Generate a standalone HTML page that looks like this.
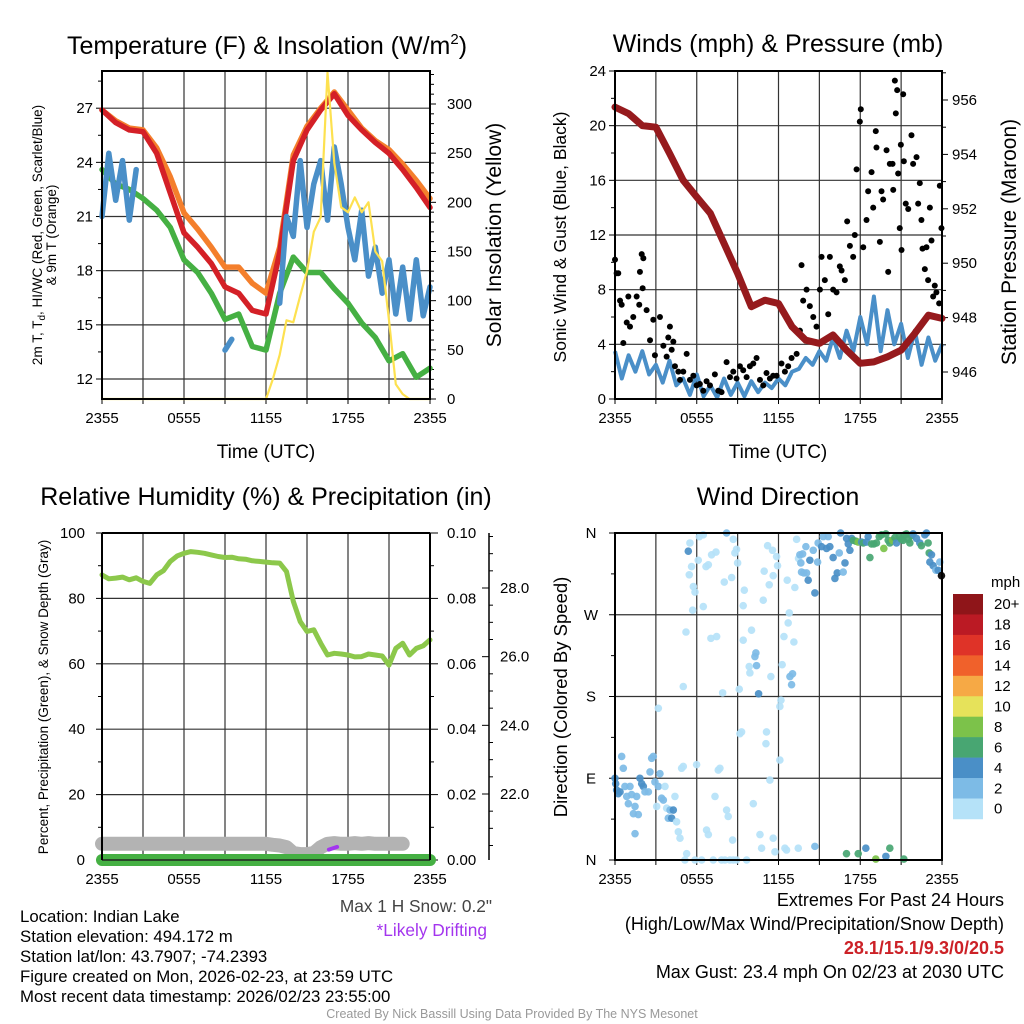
<!DOCTYPE html>
<html><head><meta charset="utf-8"><style>
html,body{margin:0;padding:0;background:#fff;}
svg{display:block;font-family:"Liberation Sans",Arial,sans-serif;}
</style></head><body>
<svg id="fig" width="1024" height="1024" viewBox="0 0 1024 1024" xmlns="http://www.w3.org/2000/svg">
<rect width="1024" height="1024" fill="#fff"/>
<g id="titles">
<text x="267" y="54" text-anchor="middle" font-size="25">Temperature (F) &amp; Insolation (W/m<tspan dy="-10" font-size="15">2</tspan><tspan dy="10">)</tspan></text>
<text x="778" y="52" text-anchor="middle" font-size="25">Winds (mph) &amp; Pressure (mb)</text>
<text x="266" y="505" text-anchor="middle" font-size="25">Relative Humidity (%) &amp; Precipitation (in)</text>
<text x="778" y="505" text-anchor="middle" font-size="25">Wind Direction</text>
<text x="266" y="458" text-anchor="middle" font-size="19">Time (UTC)</text>
<text x="778" y="458" text-anchor="middle" font-size="19">Time (UTC)</text>
<text transform="translate(42,235) rotate(-90)" text-anchor="middle" font-size="13.5">2m T, T<tspan dy="3" font-size="10">d</tspan><tspan dy="-3">, HI/WC (Red, Green, Scarlet/Blue)</tspan></text>
<text transform="translate(56,235) rotate(-90)" text-anchor="middle" font-size="13.5">&amp; 9m T (Orange)</text>
<text transform="translate(501,235) rotate(-90)" text-anchor="middle" font-size="21">Solar Insolation (Yellow)</text>
<text transform="translate(566,237) rotate(-90)" text-anchor="middle" font-size="17.5">Sonic Wind &amp; Gust (Blue, Black)</text>
<text transform="translate(1016,242) rotate(-90)" text-anchor="middle" font-size="21">Station Pressure (Maroon)</text>
<text transform="translate(48,697) rotate(-90)" text-anchor="middle" font-size="13.5">Percent, Precipitation (Green), &amp; Snow Depth (Gray)</text>
<text transform="translate(567,697) rotate(-90)" text-anchor="middle" font-size="18.5">Direction (Colored By Speed)</text>
</g>
<g id="footer" font-size="16.8">
<text x="20" y="922">Location: Indian Lake</text>
<text x="20" y="942">Station elevation: 494.172 m</text>
<text x="20" y="962">Station lat/lon: 43.7907; -74.2393</text>
<text x="20" y="982">Figure created on Mon, 2026-02-23, at 23:59 UTC</text>
<text x="20" y="1002">Most recent data timestamp: 2026/02/23 23:55:00</text>
<text x="492" y="912" text-anchor="end" fill="#444" font-size="17.3">Max 1 H Snow: 0.2"</text>
<text x="487" y="936" text-anchor="end" fill="#a335ee" font-size="17.3">*Likely Drifting</text>
<text x="1004" y="906" text-anchor="end" font-size="18">Extremes For Past 24 Hours</text>
<text x="1004" y="930" text-anchor="end" font-size="18">(High/Low/Max Wind/Precipitation/Snow Depth)</text>
<text x="1004" y="954" text-anchor="end" font-size="18" font-weight="bold" fill="#cc2127">28.1/15.1/9.3/0/20.5</text>
<text x="1004" y="978" text-anchor="end" font-size="18">Max Gust: 23.4 mph On 02/23 at 2030 UTC</text>
<text x="512" y="1018" text-anchor="middle" font-size="12.5" fill="#999">Created By Nick Bassill Using Data Provided By The NYS Mesonet</text>
</g>
</svg>
<script>
// ---------- shared ----------
const timeTickLabels = ["2355","0555","1155","1755","2355"];
// ---------- panel 1 data (half-hourly / hourly) ----------
const tempRed = [26.9,26.2,25.8,25.7,24.5,22.3,20.1,19.3,18.4,17.1,16.75,15.8,15.6,19.0,24.1,25.8,26.9,27.8,26.6,25.8,25.1,24.5,23.6,22.6,21.5];
const tempOrange = [26.9,26.3,25.9,25.8,24.8,23.2,21.2,20.3,19.3,18.2,18.2,17.3,16.75,19.3,24.4,26.0,27.0,27.9,26.9,25.9,25.2,24.7,23.9,23.0,22.0];
const tempGreen = [23.6,22.8,22.5,22.0,21.35,20.4,18.6,17.9,16.75,15.3,15.6,13.8,13.6,16.75,18.75,17.9,17.9,17.0,16.2,15.1,14.3,13.0,13.4,12.1,12.6];
const tempBlue = [21.0,24.5,21.9,24.1,20.8,23.6,null,23.3,null,null,null,null,null,null,null,null,null,null,13.6,14.2,null,null,null,null,null,null,16.2,21.0,19.9,24.1,20.4,22.8,24.1,20.8,24.85,22.8,20.4,18.6,21.35,17.7,19.3,16.75,18.6,15.6,18.2,15.3,18.6,15.5,17.1];
const solarValues = [0,0,0,0,0,0,0,0,0,0,0,0,0,0,0,0,0,0,0,0,0,0,0,0,0,20,45,80,78,105,130,170,185,332,240,195,190,205,190,200,150,140,80,15,5,0,0,0,0];
const tempTicks = [12,15,18,21,24,27];
const solarTicks = [0,50,100,150,200,250,300];
// ---------- panel 2 data ----------
const pressureValues = [955.74,955.5,955.06,955.0,954.04,953.05,952.43,951.83,950.73,949.63,948.4,948.64,948.52,947.66,947.17,947.05,947.36,946.8,946.32,946.37,946.56,946.8,947.42,948.09,947.97];
const windValues = [3.5,1.5,3.2,2.0,3.5,1.8,2.5,1.2,2.8,1.0,1.5,0.3,1.8,0.2,1.0,0.1,1.5,0.3,1.2,0.2,1.3,0.5,1.2,0.8,1.5,1.0,2.0,2.2,3.0,2.5,3.5,2.8,4.5,3.0,5.0,3.5,6.0,4.0,7.5,3.5,6.5,4.0,5.5,3.0,5.0,2.5,4.5,2.8,4.0];
const gustHours = [0.0,0.12,0.24,0.37,0.49,0.61,0.86,0.98,1.10,1.34,1.59,1.78,1.96,2.08,2.03,1.83,2.32,2.57,2.81,2.93,3.30,3.55,3.79,4.03,3.91,4.28,4.16,4.40,4.65,4.77,5.01,5.26,5.50,5.75,5.99,6.23,6.48,6.72,6.97,7.33,7.58,7.82,8.19,8.44,8.68,8.92,9.17,9.41,9.66,9.90,10.15,10.39,10.64,10.88,11.12,11.37,11.61,11.86,12.22,12.47,12.71,12.96,13.33,13.57,13.69,13.81,14.06,14.30,14.55,14.79,15.04,15.16,15.40,15.65,15.77,16.01,16.26,16.50,16.63,16.87,17.04,17.24,17.48,17.60,17.73,17.97,18.04,18.22,18.46,18.58,18.83,18.95,19.14,19.19,19.44,19.56,19.68,19.93,20.05,20.17,20.37,20.42,20.54,20.61,20.71,20.78,20.90,21.03,21.15,20.98,21.20,21.34,21.52,21.76,21.88,22.13,22.25,22.37,22.49,22.57,22.74,22.86,22.98,23.11,23.23,23.35,23.47,23.59,23.79,23.84,23.96];
const gustValues = [10.2,9.2,9.2,7.2,6.9,4.1,5.6,7.5,5.3,6.0,7.5,6.9,10.6,10.3,8.1,9.3,6.5,4.3,5.8,3.2,6.0,3.9,3.1,5.3,4.5,4.2,3.6,2.4,2.0,1.4,2.0,3.3,1.4,1.7,1.0,1.1,0.6,1.3,1.0,1.8,0.6,0.5,2.7,1.6,2.0,1.5,2.4,2.1,1.6,2.4,2.6,3.0,1.4,1.0,1.9,1.5,1.7,1.7,2.6,2.0,2.4,3.0,3.3,5.0,9.8,7.2,8.0,6.8,6.0,5.3,8.0,10.4,8.7,6.2,10.4,8.0,7.8,9.7,9.4,8.7,13.0,11.2,10.4,12.0,16.8,20.3,21.2,11.1,13.1,15.2,16.6,14.0,19.6,18.4,11.5,15.2,14.6,18.2,9.3,17.2,17.2,15.3,23.3,20.9,22.6,16.5,12.5,10.9,22.3,18.6,17.4,14.3,13.9,19.3,17.2,17.7,14.3,15.8,13.1,11.0,9.5,11.1,8.7,14.0,11.6,7.5,8.3,7.8,7.0,15.6,12.5];
const windTicks = [0,4,8,12,16,20,24];
const pressureTicks = [946,948,950,952,954,956];
// ---------- panel 3 data ----------
const rhValues = [87.2,86.0,86.2,86.5,85.7,86.3,85.2,84.6,87.2,88.5,91.3,93.0,93.8,94.3,94.1,93.8,93.3,92.8,92.5,92.6,92.1,92.0,91.5,91.3,91.1,90.9,90.8,88.2,79.1,72.9,69.9,70.4,66.3,62.7,63.2,63.0,62.7,62.1,62.2,63.0,62.7,62.4,59.6,64.7,66.3,62.7,64.7,65.5,67.3];
const precipValues = [0,0,0,0,0,0,0,0,0,0,0,0,0,0,0,0,0,0,0,0,0,0,0,0,0];
const snowValues = [20.55,20.55,20.55,20.55,20.55,20.55,20.55,20.55,20.55,20.55,20.55,20.55,20.55,20.55,20.55,20.55,20.55,20.55,20.55,20.55,20.55,20.55,20.55,20.55,20.55,20.52,20.5,20.45,20.28,20.25,20.25,20.28,20.45,20.55,20.57,20.55,20.55,20.57,20.55,20.57,20.55,20.55,20.55,20.55,20.55,null,null,null,null];
const driftHours = [16.6,17.2];
const driftValues = [20.38,20.46];
const rhTicks = [0,20,40,60,80,100];
const precipTicks = ["0.00","0.02","0.04","0.06","0.08","0.10"];
const snowTicks = ["22.0","24.0","26.0","28.0"];
// ---------- panel 4 data ----------
const dirHours = [0.0,0.05,0.12,0.24,0.37,0.49,0.61,0.73,0.86,0.98,1.10,1.22,1.35,1.47,1.59,1.71,1.47,1.83,1.96,2.08,2.20,2.45,2.57,2.69,2.81,2.93,3.06,3.18,3.30,3.42,3.55,3.67,3.79,3.91,4.04,4.16,4.28,4.40,4.52,4.65,4.77,4.89,5.01,5.13,5.26,5.87,5.99,6.36,6.72,6.85,7.21,7.34,7.58,7.70,7.82,8.07,8.19,8.31,8.44,8.68,8.63,8.92,9.17,9.29,9.66,10.15,10.64,10.76,11.12,11.08,11.37,11.61,11.74,12.10,12.47,12.59,13.45,14.67,16.99,17.85,18.41,19.14,19.88,20.17,21.20,3.18,
5.01,5.21,5.45,5.38,5.50,5.62,5.75,5.87,5.70,6.11,6.19,6.48,6.48,6.68,6.85,7.09,7.04,7.41,7.46,7.90,8.02,8.19,8.56,8.68,8.80,8.92,9.00,9.12,9.41,9.49,9.41,9.90,9.85,10.02,10.27,10.34,10.39,10.54,10.88,10.95,11.20,11.32,11.44,11.56,11.61,11.86,11.93,12.10,12.18,12.27,12.40,12.64,12.71,12.79,12.84,12.96,13.03,13.13,13.20,13.33,13.47,13.57,13.64,13.77,13.69,13.86,14.06,14.01,14.18,14.30,14.55,14.67,14.87,14.91,15.16,15.28,15.53,15.65,15.77,16.01,16.14,16.31,16.46,16.56,16.75,16.88,17.00,17.12,17.24,17.37,17.49,17.68,17.85,18.10,18.22,18.46,18.58,18.71,18.83,19.00,19.19,19.39,19.56,19.73,19.88,20.05,20.17,20.37,20.54,20.66,20.86,21.03,21.15,21.27,21.39,21.52,21.64,21.76,21.88,22.13,22.37,22.49,22.74,22.86,22.98,23.06,23.23,23.11,23.35,23.55,23.72,23.84,23.96];
const dirDegrees = [90,84,77,73,75,114,101,81,70,62,81,72,51,59,70,50,29,90,84,81,75,75,97,112,114,86,59,81,95,68,66,81,57,46,55,46,55,70,42,31,24,101,103,0,7,0,105,0,33,28,0,70,99,101,0,0,55,48,0,0,22,0,139,141,0,62,28,13,141,128,88,24,9,110,13,11,13,15,7,7,13,1,4,13,1,167,
191,251,314,340,349,323,301,295,275,330,356,358,279,323,325,336,244,339,246,184,306,360,311,353,338,342,327,188,280,297,242,206,213,253,224,228,214,183,286,318,346,303,202,341,313,334,324,169,176,215,246,308,261,272,202,193,205,240,300,353,332,336,327,337,317,316,316,345,308,330,341,294,328,349,345,356,343,356,345,333,310,316,338,360,317,327,354,348,341,354,352,351,350,350,349,350,356,333,348,348,349,356,358,343,359,352,349,352,355,349,356,353,352,358,359,353,349,357,359,354,349,346,358,360,349,338,336,328,324,319,319,328,313];
const dirSpeeds = [5,5,5,5,5,3,3,3,3,3,3,3,3,3,3,3,3,5,5,5,3,3,3,3,3,3,1,3,3,3,3,1,1,3,3,5,5,1,1,1,1,1,1,1,1,1,1,1,1,1,1,1,1,1,1,1,1,1,1,1,1,1,1,1,1,1,1,1,1,1,1,1,1,1,1,1,1,3,7,7,5,9,5,7,7,1,
1,1,1,5,1,1,1,1,1,1,1,1,1,1,1,1,1,1,1,1,1,3,1,1,1,1,1,1,1,1,1,1,1,1,3,3,3,5,1,1,1,1,1,1,1,1,1,1,1,1,1,1,1,1,3,3,3,1,1,1,1,3,3,3,3,3,3,3,5,5,3,5,3,3,5,3,5,3,5,5,5,5,3,5,3,5,5,5,5,5,7,7,9,5,7,5,5,7,7,7,7,7,7,9,7,7,7,9,7,5,7,7,7,7,7,7,7,7,5,5,5,7,5,5,7,7,5,5,5,3,5,3];
const dirTicks = ["N","E","S","W","N"];
const speedBinLabels = ["0","2","4","6","8","10","12","14","16","18","20+"];
const speedBinColors = ["#b5e2f8","#7dbbe6","#4a8fc7","#48a672","#7cc24a","#e6e25a","#f6a945","#f0612b","#df3328","#bb1a24","#8f1519"];

// ---------- helpers ----------
const NS = "http://www.w3.org/2000/svg";
const svg = document.getElementById("fig");
function mk(tag, attrs, parent){ const e=document.createElementNS(NS,tag); for(const k in attrs) e.setAttribute(k,attrs[k]); (parent||svg).appendChild(e); return e; }
function lin(d0,d1,r0,r1){ return v=> r0+(v-d0)*(r1-r0)/(d1-d0); }
function pathFrom(xs, ys){
  let d="", pen=false;
  for(let i=0;i<xs.length;i++){ if(ys[i]===null||isNaN(ys[i])){pen=false;continue;} d+=(pen?"L":"M")+xs[i].toFixed(1)+" "+ys[i].toFixed(1); pen=true; }
  return d;
}
function series(values, stepH, xs, ys){ return pathFrom(values.map((v,i)=>xs(i*stepH)), values.map(v=> v===null?null:ys(v))); }

function frame(P, name){
  const g = mk("g",{});
  
  
  for(let h=3; h<24; h+=3){ const x=P.x(h); mk("line",{x1:x,y1:P.y0,x2:x,y2:P.y1,stroke:"#333","stroke-width":1.2},g); mk("line",{x1:x,y1:P.y1,x2:x,y2:P.y1+5,stroke:"#000","stroke-width":1},g); }
  mk("line",{x1:P.x0,y1:P.y1,x2:P.x0,y2:P.y1+5,stroke:"#000","stroke-width":1},g);
  mk("line",{x1:P.x1,y1:P.y1,x2:P.x1,y2:P.y1+5,stroke:"#000","stroke-width":1},g);
  return g;
}
function border(P){
  const r = mk("rect",{x:P.x0,y:P.y0,width:P.x1-P.x0,height:P.y1-P.y0,fill:"none",stroke:"#000","stroke-width":2});
  
  
}
function hgrid(g,P,y){ mk("line",{x1:P.x0,y1:y,x2:P.x1,y2:y,stroke:"#333","stroke-width":1.2},g); }
function tickL(P,y,len){ mk("line",{x1:P.x0-len,y1:y,x2:P.x0,y2:y,stroke:"#000","stroke-width":1}); }
function tickR(P,y,len){ mk("line",{x1:P.x1,y1:y,x2:P.x1+len,y2:y,stroke:"#000","stroke-width":1}); }
function label(x,y,txt,anchor,name,size){
  const t = mk("text",{x:x,y:y,"text-anchor":anchor,"font-size":size||15});
  t.textContent = txt;
  
  
  return t;
}
function timeLabels(P,prefix){
  timeTickLabels.forEach((s,i)=>{ label(P.x(i*6), P.y1+24, s, "middle", prefix+'-x-tick-label'); });
}

// ---------- Panel 1 ----------
(function(){
  const P={x0:102,x1:430,y0:71,y1:399};
  P.x = lin(0,24,P.x0,P.x1);
  const yT = lin(12,27,379,108.2);
  const yS = lin(0,300,399,104);
  const g = frame(P,'temperature');
  tempTicks.forEach(t=>{ hgrid(g,P,yT(t)); tickL(P,yT(t),6); label(P.x0-9,yT(t)+5,String(t),"end",'temp-y-tick-label'); });
  for(let t=10.5;t<=29;t+=3){ const y=yT(t); if(y>P.y0&&y<P.y1) tickL(P,y,4); }
  for(let s=0;s<=330;s+=10){ const y=yS(s); if(y>=P.y0) tickR(P,y, s%50===0?6:4); }
  solarTicks.forEach(s=>{ label(P.x1+17,yS(s)+5,String(s),"start",'solar-y-tick-label'); });
  timeLabels(P,'temp');
  const defs=[["dewpoint-line",tempGreen,1,"#45b043"],["temp-9m-line",tempOrange,1,"#f47f2c"],["temp-2m-line",tempRed,1,"#d42027"],["heat-index-windchill-line",tempBlue,0.5,"#4a8fc8"]];
  defs.forEach(dd=>{
    const p = mk("path",{d:series(dd[1],dd[2],P.x,yT),fill:"none",stroke:dd[3],"stroke-width":5.5,"stroke-linejoin":"round","stroke-linecap":"round"});
    
    
  });
  const sp = mk("path",{d:series(solarValues,0.5,P.x,yS),fill:"none",stroke:"#fde150","stroke-width":2.2,"stroke-linejoin":"round"});
  
  
  border(P);
})();

// ---------- Panel 2 ----------
(function(){
  const P={x0:615,x1:942,y0:71,y1:399};
  P.x = lin(0,24,P.x0,P.x1);
  const yW = lin(0,24,399,71);
  const yP = lin(946,956,372,100);
  const g = frame(P,'winds');
  windTicks.forEach(w=>{ hgrid(g,P,yW(w)); tickL(P,yW(w),6); label(P.x0-9,yW(w)+5,String(w),"end",'wind-y-tick-label'); });
  for(let w=2;w<24;w+=4) tickL(P,yW(w),4);
  for(let p=945;p<=957;p+=1){ const y=yP(p); if(y>=P.y0&&y<=P.y1) tickR(P,y,p%2===0?6:4); }
  pressureTicks.forEach(p=>{ label(P.x1+10,yP(p)+5,String(p),"start",'pressure-y-tick-label'); });
  timeLabels(P,'winds');
  const wp = mk("path",{d:series(windValues,0.5,P.x,yW),fill:"none",stroke:"#4a8fc8","stroke-width":4,"stroke-linejoin":"round"});
  
  
  const gg = mk("g",{});
  
  
  gustHours.forEach((h,i)=>{
    const c = mk("circle",{cx:P.x(h),cy:yW(gustValues[i]),r:3,fill:"#000"},gg);
    
    
  });
  const pp = mk("path",{d:series(pressureValues,1,P.x,yP),fill:"none",stroke:"#961a1d","stroke-width":7,"stroke-linejoin":"round","stroke-linecap":"round"});
  
  
  border(P);
})();

// ---------- Panel 3 ----------
(function(){
  const P={x0:102,x1:430,y0:533,y1:860};
  P.x = lin(0,24,P.x0,P.x1);
  const yR = lin(0,100,860,533);
  const yPr = lin(0,0.1,860,533);
  const ySn = lin(22,28,794,588);
  const g = frame(P,'humidity');
  rhTicks.forEach(r=>{ if(r>0&&r<100) hgrid(g,P,yR(r)); tickL(P,yR(r),6); label(P.x0-17,yR(r)+5,String(r),"end",'rh-y-tick-label'); });
  for(let r=10;r<100;r+=20) tickL(P,yR(r),4);
  for(let k=0;k<=10;k++){ mk("line",{x1:P.x1,y1:yPr(k/100),x2:P.x1+(k%2===0?8:4),y2:yPr(k/100),stroke:"#000","stroke-width":1}); }
  precipTicks.forEach(s=>{ label(P.x1+17,yPr(parseFloat(s))+5,s,"start",'precip-y-tick-label'); });
  const ax = mk("line",{x1:489,y1:533,x2:489,y2:860,stroke:"#000","stroke-width":1.5});
  
  
  for(let s=20.5;s<=29.5;s+=0.5){ const y=ySn(s); if(y>=536&&y<=858){ if(s%2===0) mk("line",{x1:482,y1:y,x2:489,y2:y,stroke:"#000","stroke-width":1}); else mk("line",{x1:489,y1:y,x2:493,y2:y,stroke:"#000","stroke-width":1}); } }
  snowTicks.forEach(s=>{ label(500,ySn(parseFloat(s))+5,s,"start",'snow-y-tick-label'); });
  timeLabels(P,'humidity');
  const sn = mk("path",{d:series(snowValues,0.5,P.x,ySn),fill:"none",stroke:"#b3b3b3","stroke-width":14,"stroke-linejoin":"round","stroke-linecap":"round"});
  
  
  const dr = mk("path",{d:pathFrom(driftHours.map(P.x),driftValues.map(ySn)),fill:"none",stroke:"#a335ee","stroke-width":4,"stroke-linecap":"round"});
  
  
  const pr = mk("path",{d:series(precipValues,1,P.x,yPr),fill:"none",stroke:"#45b043","stroke-width":12,"stroke-linecap":"round"});
  
  
  mk("line",{x1:P.x0,y1:P.y1,x2:P.x1,y2:P.y1,stroke:"#222","stroke-width":1.5});
  const rh = mk("path",{d:series(rhValues,0.5,P.x,yR),fill:"none",stroke:"#8cc84b","stroke-width":5,"stroke-linejoin":"round","stroke-linecap":"round"});
  
  
  mk("line",{x1:P.x0,y1:P.y0,x2:P.x0,y2:P.y1,stroke:"#000","stroke-width":2});
  mk("line",{x1:P.x1,y1:P.y0,x2:P.x1,y2:P.y1,stroke:"#000","stroke-width":2});
  mk("line",{x1:P.x0,y1:P.y0,x2:P.x1,y2:P.y0,stroke:"#000","stroke-width":2});
})();

// ---------- Panel 4 ----------
(function(){
  const P={x0:615,x1:942,y0:533,y1:860};
  P.x = lin(0,24,P.x0,P.x1);
  const yD = lin(0,360,860,533);
  const g = frame(P,'wind-direction');
  dirTicks.forEach((s,i)=>{ const y=yD(i*90); if(i>0&&i<4) hgrid(g,P,y); tickL(P,y,6); label(591,y+5,s,"middle",'direction-y-tick-label'); });
  for(let d=45;d<360;d+=90) tickL(P,yD(d),4);
  timeLabels(P,'direction');
  const dg = mk("g",{});
  
  
  dirHours.forEach((h,i)=>{
    const bin = Math.min(10, Math.floor(dirSpeeds[i]/2));
    const c = mk("circle",{cx:P.x(h),cy:yD(dirDegrees[i]),r:3.8,fill:speedBinColors[bin],"fill-opacity":0.92},dg);
    
    
  });
  border(P);
  const cb = mk("g",{});
  
  
  const top=594, bh=20.45;
  speedBinLabels.forEach((s,i)=>{
    const k = speedBinLabels.length-1-i;
    const y = top + i*bh;
    const r = mk("rect",{x:953,y:y,width:30,height:bh+0.3,fill:speedBinColors[k]},cb);
    
    
    label(994, y+bh/2+5, speedBinLabels[k], "start", 'colorbar-label', 15);
  });
  label(991,587,"mph","start",'colorbar-title',15);
})();
</script>
</body></html>
